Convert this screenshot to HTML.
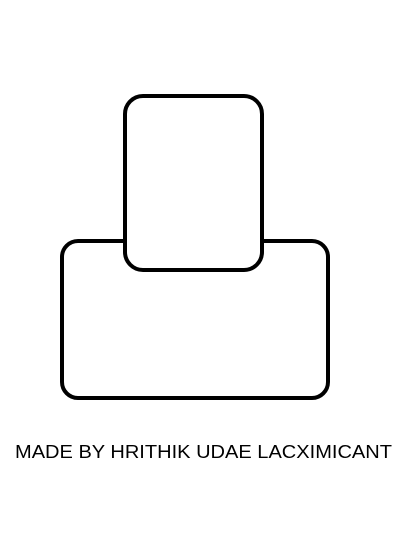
<!DOCTYPE html>
<html><head><meta charset="utf-8"><style>html,body{margin:0;padding:0;background:#fff;}svg{display:block}</style></head>
<body>
<svg width="409" height="544" viewBox="0 0 409 544">
<rect x="0" y="0" width="409" height="544" fill="#fff"/>
<rect x="62" y="241" width="266" height="157" rx="16" ry="16" fill="#fff" stroke="#000" stroke-width="4"/>
<rect x="125" y="96" width="137" height="174" rx="18" ry="18" fill="#fff" stroke="#000" stroke-width="4"/>
<text x="15" y="458" textLength="377" lengthAdjust="spacingAndGlyphs" font-family="Liberation Sans, sans-serif" font-size="18" fill="#000">MADE BY HRITHIK UDAE LACXIMICANT</text>
</svg>
</body></html>
